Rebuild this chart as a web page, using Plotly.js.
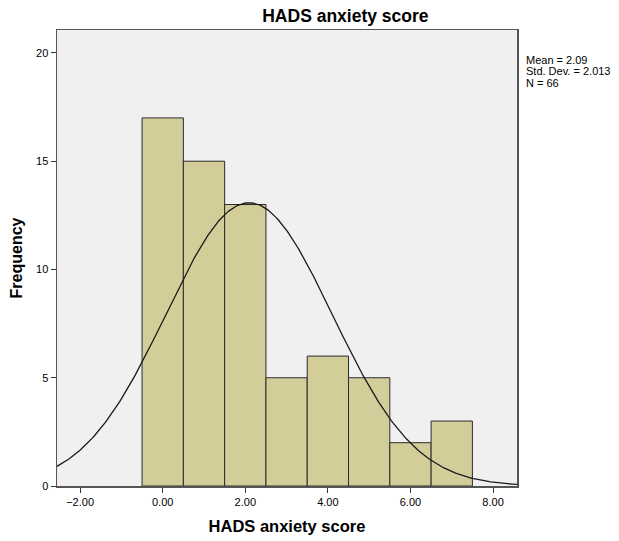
<!DOCTYPE html>
<html>
<head>
<meta charset="utf-8">
<script src="https://cdn.plot.ly/plotly-3.0.1.min.js"></script>
<style>html,body{margin:0;padding:0;background:#fff;}#chart{width:619px;height:541px;}</style>
</head>
<body>
<div id="chart"></div>
<script>
// Histogram bins (centers) and frequencies
const binCenters = [0, 1, 2, 3, 4, 5, 6, 7];
const frequencies = [17, 15, 13, 5, 6, 5, 2, 3];
// Summary statistics shown in the chart
const statMean = 2.09;
const statSD = 2.013;
const statN = 66;
const binWidth = 1;
const xTickVals = [-2, 0, 2, 4, 6, 8];
const yTickVals = [0, 5, 10, 15, 20];
const statLines = ['Mean = 2.09', 'Std. Dev. = 2.013', 'N = 66'];

const xRange = [-2.56, 8.58];
const yRange = [0, 21.06];

// Fitted normal curve from the stated mean / sd / N
const curveX = [], curveY = [];
for (let i = 0; i <= 300; i++) {
  const x = xRange[0] + (xRange[1] - xRange[0]) * i / 300;
  const z = (x - statMean) / statSD;
  curveX.push(x);
  curveY.push(statN * binWidth / (statSD * Math.sqrt(2 * Math.PI)) * Math.exp(-0.5 * z * z));
}

const font = "Liberation Sans, Arial, sans-serif";

const traces = [
  {
    type: 'bar', x: binCenters, y: frequencies, width: binWidth,
    marker: {color: '#d3ce99', line: {color: '#2b2b2b', width: 1}},
    hoverinfo: 'skip'
  },
  {
    type: 'scatter', mode: 'lines', x: curveX, y: curveY,
    line: {color: '#1a1a1a', width: 1.3}, hoverinfo: 'skip'
  }
];

const annY = [0.934, 0.909, 0.884];
const annotations = statLines.map((t, i) => ({
  xref: 'paper', yref: 'paper', x: 1.015, y: annY[i], xanchor: 'left', yanchor: 'middle', align: 'left',
  text: t, showarrow: false, font: {family: font, size: 11, color: '#000'}
}));

const layout = {
  width: 619, height: 541,
  margin: {l: 57, r: 102, t: 30, b: 55},
  paper_bgcolor: '#ffffff', plot_bgcolor: '#f0f0f0',
  showlegend: false, bargap: 0,
  font: {family: font, color: '#000', size: 11},
  title: {text: '<b>HADS anxiety score</b>', font: {family: font, size: 17.5, color: '#000'},
          xref: 'container', x: 0.558, xanchor: 'center', yref: 'container', y: 0.971, yanchor: 'middle'},
  xaxis: {
    range: xRange, tickvals: xTickVals, tickformat: '.2f',
    ticks: 'outside', ticklen: 5, tickcolor: '#333', tickwidth: 1,
    showgrid: false, zeroline: false,
    showline: true, linecolor: '#555', linewidth: 1.5, mirror: true,
    tickfont: {family: font, size: 11, color: '#000'},
    title: {text: '<b>HADS anxiety score</b>', font: {family: font, size: 16.5, color: '#000'}, standoff: 13}
  },
  yaxis: {
    range: yRange, tickvals: yTickVals,
    ticks: 'outside', ticklen: 5, tickcolor: '#333', tickwidth: 1,
    showgrid: false, zeroline: false,
    showline: true, linecolor: '#555', linewidth: 1.5, mirror: true,
    tickfont: {family: font, size: 11, color: '#000'},
    title: {text: '<b>Frequency</b>', font: {family: font, size: 16, color: '#000'}, standoff: 9}
  },
  annotations: annotations
};

Plotly.newPlot('chart', traces, layout, {displayModeBar: false, staticPlot: true});
</script>
</body>
</html>
